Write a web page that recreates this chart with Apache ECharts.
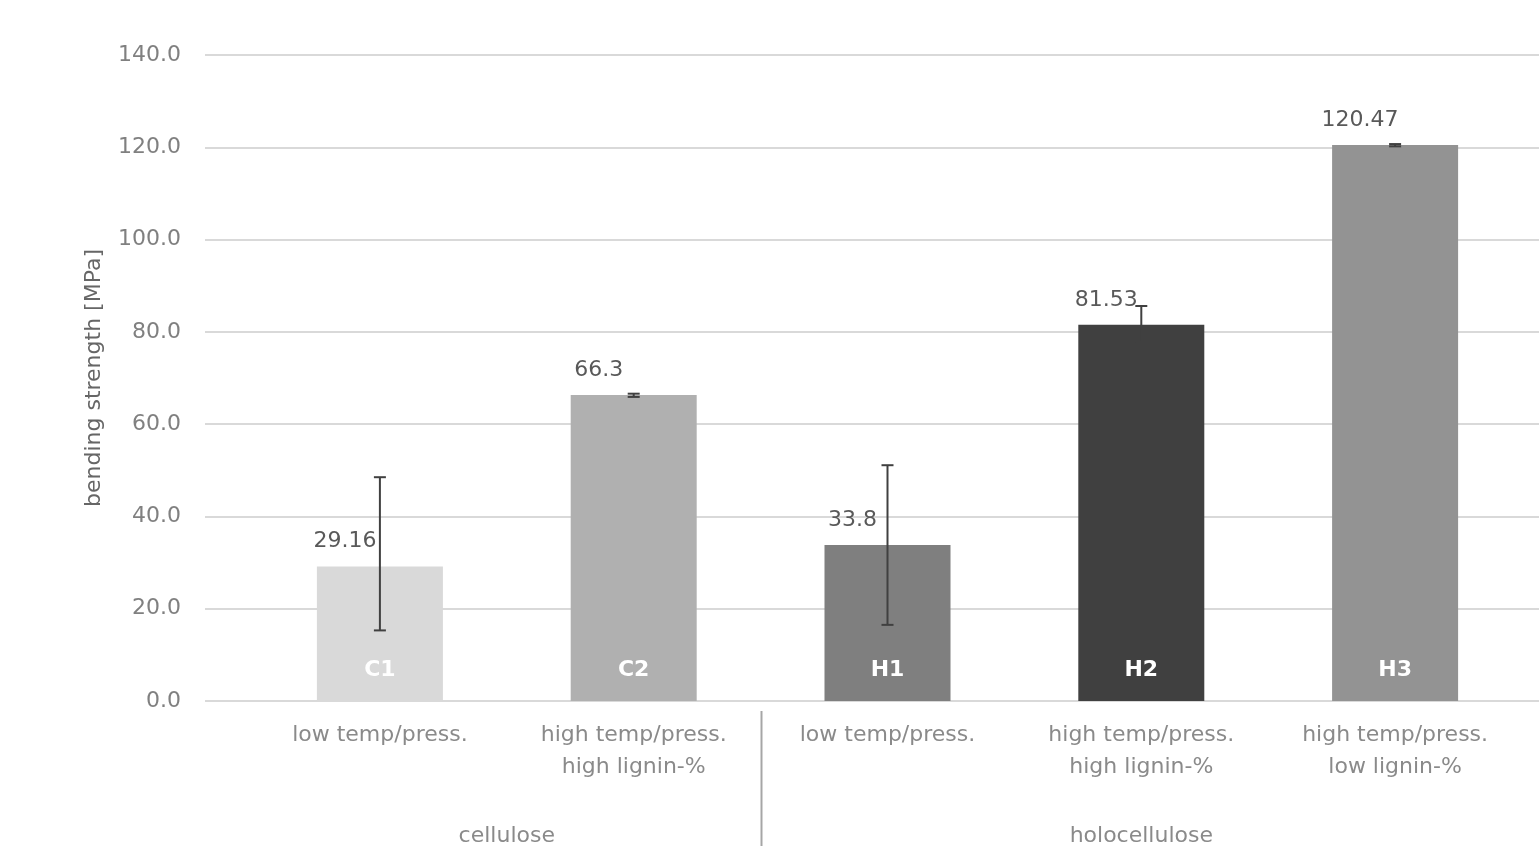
<!DOCTYPE html>
<html>
<head>
<meta charset="utf-8">
<script src="https://cdn.jsdelivr.net/npm/echarts@6/dist/echarts.min.js"></script>
<style>
  html, body { margin: 0; padding: 0; background: #fff; }
  #chart { width: 1539px; height: 846px; }
</style>
</head>
<body>
<div id="chart"></div>
<script>
// Bending strength of the pressed samples (MPa)
const codes = ['C1', 'C2', 'H1', 'H2', 'H3'];
const conditions = [
  'low temp/press.',
  'high temp/press.\nhigh lignin-%',
  'low temp/press.',
  'high temp/press.\nhigh lignin-%',
  'high temp/press.\nlow lignin-%'
];
const strength = [29.16, 66.3, 33.8, 81.53, 120.47];
const errLow = [15.3, 65.9, 16.5, 77.8, 120.2];
const errHigh = [48.5, 66.6, 51.1, 85.6, 120.7];
const barColors = ['#d9d9d9', '#b0b0b0', '#7f7f7f', '#404040', '#939393'];
const groups = [
  { name: 'cellulose', from: 0, to: 1 },
  { name: 'holocellulose', from: 2, to: 4 }
];
const yTicks = { min: 0, max: 140, step: 20 };

const FONT = 'DejaVu Sans';

const chart = echarts.init(document.getElementById('chart'), null, { renderer: 'canvas' });

const option = {
  backgroundColor: '#ffffff',
  animation: false,
  grid: [
    { left: 205, right: 0, top: 55, bottom: 145 },
    { left: 253, right: 17, top: 55, bottom: 145 }
  ],
  xAxis: [
    { gridIndex: 0, type: 'category', data: [], show: false },
    {
      gridIndex: 1,
      type: 'category',
      data: conditions,
      axisLine: { show: false },
      axisTick: { show: false },
      axisLabel: {
        interval: 0,
        margin: 18,
        color: '#8a8a8a',
        fontFamily: FONT,
        fontSize: 22,
        lineHeight: 32
      }
    }
  ],
  yAxis: [
    {
      gridIndex: 0,
      type: 'value',
      min: yTicks.min,
      max: yTicks.max,
      interval: yTicks.step,
      name: 'bending strength [MPa]',
      nameLocation: 'middle',
      nameGap: 100,
      nameTextStyle: { color: '#666666', fontFamily: FONT, fontSize: 22 },
      axisLine: { show: false },
      axisTick: { show: false },
      axisLabel: {
        margin: 24,
        color: '#808080',
        fontFamily: FONT,
        fontSize: 22,
        formatter: v => v.toFixed(1)
      },
      splitLine: { lineStyle: { color: '#d9d9d9', width: 2 } }
    },
    {
      gridIndex: 1,
      type: 'value',
      min: yTicks.min,
      max: yTicks.max,
      interval: yTicks.step,
      show: false,
      splitLine: { show: false }
    }
  ],
  series: [
    {
      type: 'bar',
      xAxisIndex: 1,
      yAxisIndex: 1,
      barWidth: 126,
      data: strength.map((v, i) => ({ value: v, itemStyle: { color: barColors[i] } })),
      label: {
        show: true,
        position: 'top',
        offset: [-35, -9],
        color: '#595959',
        fontFamily: FONT,
        fontSize: 22
      },
      z: 2
    },
    {
      // sample codes written inside the foot of each bar
      type: 'bar',
      xAxisIndex: 1,
      yAxisIndex: 1,
      barWidth: 126,
      barGap: '-100%',
      data: strength,
      itemStyle: { color: 'rgba(0,0,0,0)' },
      label: {
        show: true,
        position: 'insideBottom',
        distance: 20,
        formatter: p => codes[p.dataIndex],
        color: '#ffffff',
        fontFamily: FONT,
        fontWeight: 'bold',
        fontSize: 22
      },
      silent: true,
      z: 3
    },
    {
      // error bars
      type: 'custom',
      xAxisIndex: 1,
      yAxisIndex: 1,
      data: codes.map((c, i) => [i, errLow[i], errHigh[i]]),
      renderItem: (params, api) => {
        const x = api.coord([api.value(0), 0])[0];
        const yLo = api.coord([api.value(0), api.value(1)])[1];
        const yHi = api.coord([api.value(0), api.value(2)])[1];
        const cap = 6;
        const style = { stroke: '#404040', lineWidth: 2 };
        return {
          type: 'group',
          children: [
            { type: 'line', shape: { x1: x, y1: yLo, x2: x, y2: yHi }, style },
            { type: 'line', shape: { x1: x - cap, y1: yHi, x2: x + cap, y2: yHi }, style },
            { type: 'line', shape: { x1: x - cap, y1: yLo, x2: x + cap, y2: yLo }, style }
          ]
        };
      },
      z: 4
    }
  ]
};

chart.setOption(option);

// Group captions below the category labels, with a divider between groups
const toX = idx => chart.convertToPixel({ xAxisIndex: 1 }, idx);
const band = toX(1) - toX(0);
const graphics = [];
groups.forEach((g, k) => {
  const cx = (toX(g.from) + toX(g.to)) / 2;
  graphics.push({
    type: 'text',
    x: cx,
    y: 836,
    style: {
      text: g.name,
      fill: '#8a8a8a',
      font: '22px "' + FONT + '"',
      textAlign: 'center',
      textVerticalAlign: 'middle'
    }
  });
  if (k > 0) {
    const sx = Math.round(toX(g.from) - band / 2) + 0.5;
    graphics.push({
      type: 'line',
      shape: { x1: sx, y1: 711, x2: sx, y2: 846 },
      style: { stroke: '#a6a6a6', lineWidth: 2 }
    });
  }
});
chart.setOption({ graphic: graphics });
</script>
</body>
</html>
